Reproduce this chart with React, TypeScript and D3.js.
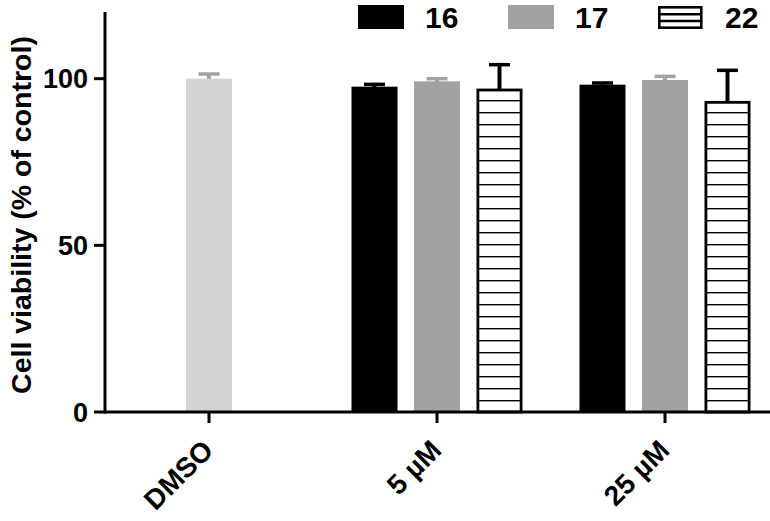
import * as React from "react";
import * as d3 from "d3";

// data
const categories = ["DMSO", "5 µM", "25 µM"];
const series = ["16", "17", "22"];
const dmsoValue = 100;
const dmsoErr = 1.4;
const values16 = [97.6, 98.2];
const err16 = [0.7, 0.5];
const values17 = [99.2, 99.6];
const err17 = [0.8, 1.1];
const values22 = [96.6, 92.9];
const err22 = [7.6, 9.6];
const yTicks = [0, 50, 100];

const W = 770;
const H = 521;
const FONT = "'Liberation Sans', Arial, sans-serif";
const BW = 46;

const fills: Record<string, string> = { "16": "#000", "17": "#a2a2a2", "22": "#fff" };
const errColor: Record<string, string> = { "16": "#000", "17": "#a2a2a2", "22": "#000" };

export default function App() {
  const y = d3.scaleLinear().domain([0, 120]).range([412, 12]);
  const x = d3.scaleBand<string>().domain(categories).range([95, 779]);
  const sub = d3.scalePoint<string>().domain(series).range([-62.5, 62.5]);

  const bars: { cat: string; s: string; v: number; e: number }[] = [];
  categories.slice(1).forEach((c, i) => {
    bars.push({ cat: c, s: "16", v: values16[i], e: err16[i] });
    bars.push({ cat: c, s: "17", v: values17[i], e: err17[i] });
    bars.push({ cat: c, s: "22", v: values22[i], e: err22[i] });
  });

  const cx = (c: string) => (x(c) as number) + x.bandwidth() / 2;
  const bx = (c: string, s: string) => cx(c) + (sub(s) as number);

  const errBar = (xc: number, v: number, e: number, color: string, key: string) => (
    <g key={key}>
      <line x1={xc} x2={xc} y1={y(v) + 3} y2={y(v + e)} stroke={color} strokeWidth={4} />
      <line x1={xc - 10.5} x2={xc + 10.5} y1={y(v + e)} y2={y(v + e)} stroke={color} strokeWidth={3.5} />
    </g>
  );

  const lxs = series.map((_, i) => 358 + i * 150);

  return (
    <svg width={W} height={H} style={{ position: "absolute", left: 0, top: 0 }} fontFamily={FONT}>
      <defs>
        <pattern id="hatch" patternUnits="userSpaceOnUse" width={8} height={12} y={y(0)}>
          <rect width={8} height={12} fill="#fff" />
          <line x1={0} x2={8} y1={0} y2={0} stroke="#000" strokeWidth={2.8} />
        </pattern>
      </defs>

      {/* DMSO bar */}
      {errBar(cx("DMSO"), dmsoValue, dmsoErr, "#a2a2a2", "dmso-err")}
      <rect
        x={cx("DMSO") - BW / 2}
        y={y(dmsoValue)}
        width={BW}
        height={y(0) - y(dmsoValue)}
        fill="#d4d4d4"
      />

      {/* compound bars */}
      {bars.map((b, i) => {
        const xc = bx(b.cat, b.s);
        return (
          <g key={i}>
            {errBar(xc, b.v, b.e, errColor[b.s], "e" + i)}
            {b.s === "22" ? (
              <rect
                x={xc - BW / 2 + 1.4}
                y={y(b.v)}
                width={BW - 2.8}
                height={y(0) - y(b.v)}
                fill="url(#hatch)"
                stroke="#000"
                strokeWidth={2.8}
              />
            ) : (
              <rect x={xc - BW / 2} y={y(b.v)} width={BW} height={y(0) - y(b.v)} fill={fills[b.s]} />
            )}
          </g>
        );
      })}

      {/* y axis */}
      <line x1={105} x2={105} y1={y(120)} y2={y(0) + 1.5} stroke="#000" strokeWidth={3} />
      {yTicks.map((t) => (
        <g key={t}>
          <line x1={94} x2={105} y1={y(t)} y2={y(t)} stroke="#000" strokeWidth={3} />
          <text x={88} y={y(t)} dy="0.36em" textAnchor="end" fontSize={27} fontWeight="bold">
            {t}
          </text>
        </g>
      ))}
      <text
        transform={`translate(31,${(y(0) + y(120)) / 2 + 3}) rotate(-90)`}
        textAnchor="middle"
        fontSize={28.5}
        fontWeight="bold"
      >
        Cell viability (% of control)
      </text>

      {/* x axis */}
      <line x1={105} x2={W} y1={y(0)} y2={y(0)} stroke="#000" strokeWidth={3} />
      {categories.map((c) => (
        <g key={c}>
          <line x1={cx(c)} x2={cx(c)} y1={y(0)} y2={y(0) + 11} stroke="#000" strokeWidth={3} />
          <text
            transform={`translate(${cx(c) + 6},${y(0) + 40}) rotate(-45)`}
            textAnchor="end"
            fontSize={28}
            fontWeight="bold"
          >
            {c}
          </text>
        </g>
      ))}

      {/* legend */}
      {series.map((s, i) => {
        const lx = lxs[i];
        return (
          <g key={s}>
            {s === "22" ? (
              <g>
                <rect x={lx + 1.3} y={7.3} width={42} height={20.4} fill="#fff" stroke="#000" strokeWidth={2.6} />
                <line x1={lx + 1.3} x2={lx + 43.3} y1={14.3} y2={14.3} stroke="#000" strokeWidth={2.6} />
                <line x1={lx + 1.3} x2={lx + 43.3} y1={21} y2={21} stroke="#000" strokeWidth={2.6} />
              </g>
            ) : (
              <rect x={lx} y={5} width={46} height={24} fill={fills[s]} />
            )}
            <text x={lx + 67} y={17} dy="0.36em" fontSize={30} fontWeight="bold">
              {s}
            </text>
          </g>
        );
      })}
    </svg>
  );
}
